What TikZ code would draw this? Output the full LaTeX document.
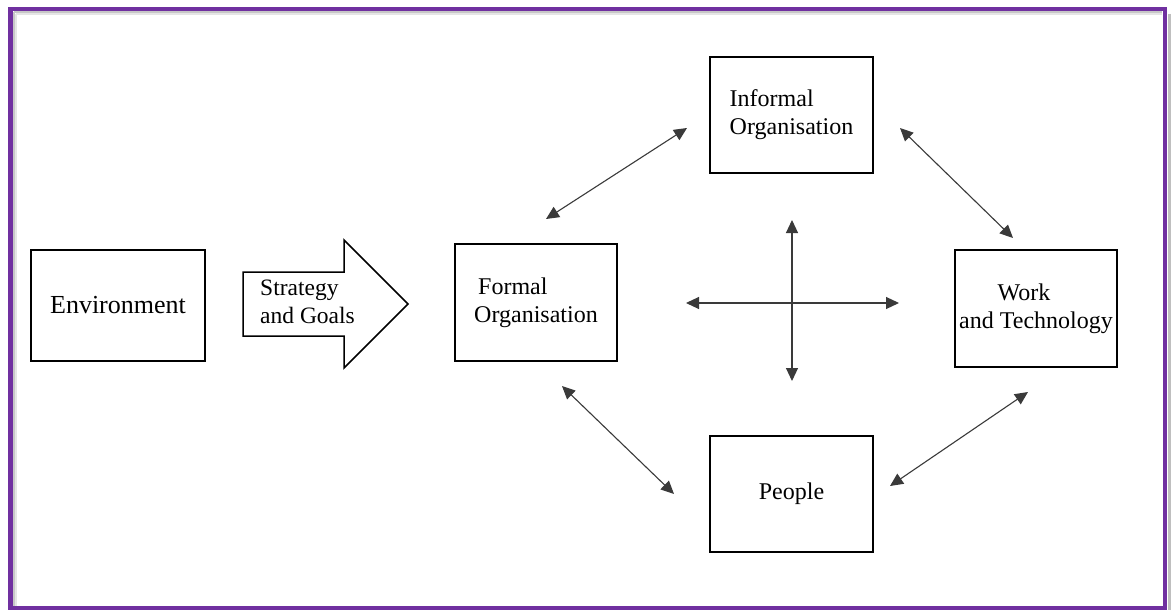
\documentclass[tikz,border=0pt]{standalone}
\usepackage{fontspec}
\setmainfont{Liberation Serif}
\usetikzlibrary{arrows.meta}
\definecolor{framepurple}{HTML}{7030A0}
\definecolor{linegray}{HTML}{3A3A3A}
\tikzset{
  box/.style={draw=black, line width=1.5pt, rectangle, inner sep=0pt, font=\fontsize{24}{28}\selectfont},
  link/.style={draw=linegray, line width=1.1pt, {Triangle[length=13pt,width=12pt]}-{Triangle[length=13pt,width=12pt]}},
  lbl/.style={font=\fontsize{23.5}{28}\selectfont, inner sep=0pt}
}
\begin{document}
\begin{tikzpicture}[x=1pt,y=-1pt]
\useasboundingbox (0,0) rectangle (1176,610);
\fill[white] (0,0) rectangle (1176,610);
% shadows
\draw[black!25, line width=3pt] (1169.5,14) -- (1169.5,610);
\draw[black!22, line width=2pt] (14,12.5) -- (1162,12.5);
\draw[black!10, line width=2pt] (16,14.5) -- (1162,14.5);
\draw[black!22, line width=2pt] (14,12.5) -- (14,606);
\draw[black!10, line width=2pt] (16,14.5) -- (16,606);
\draw[framepurple, line width=4.5pt] (10.5,9) rectangle (1165,608.5);
% boxes
\node[box, minimum width=174pt, minimum height=111pt, font=\fontsize{26}{30}\selectfont] (env) at (118,305.5) {Environment};
\node[box, minimum width=162pt, minimum height=117pt, align=left] (formal) at (536,302.5) {\hspace*{4pt}Formal\\Organisation};
\node[box, minimum width=163pt, minimum height=116pt, align=left] (informal) at (791.5,115) {Informal\\Organisation};
\node[box, minimum width=162pt, minimum height=117pt, align=center] (work) at (1036,308.5) {\hspace*{-24pt}Work\\and Technology};
\node[box, minimum width=163pt, minimum height=116pt] (people) at (791.5,494) {People};
% big arrow
\draw[black, line width=1.5pt, line join=miter] (243,272) -- (344,272) -- (344,240) -- (408,304) -- (344,368) -- (344,336) -- (243,336) -- cycle;
\node[lbl, align=left, anchor=west] (strat) at (260,302) {Strategy\\and Goals};
% connectors
\coordinate (fi1) at (546,219);
\coordinate (fi2) at (687,128);
\coordinate (iw1) at (900,128);
\coordinate (iw2) at (1013,238);
\coordinate (fp1) at (562,386);
\coordinate (fp2) at (674,494);
\coordinate (pw1) at (890,486);
\coordinate (pw2) at (1028,392);
\coordinate (cl) at (686,303);
\coordinate (cr) at (899,303);
\coordinate (ct) at (792,220);
\coordinate (cb) at (792,381);
\draw[link] (fi1) -- (fi2);
\draw[link] (iw1) -- (iw2);
\draw[link] (fp1) -- (fp2);
\draw[link] (pw1) -- (pw2);
\draw[link] (cl) -- (cr);
\draw[link] (ct) -- (cb);
\end{tikzpicture}
\end{document}
